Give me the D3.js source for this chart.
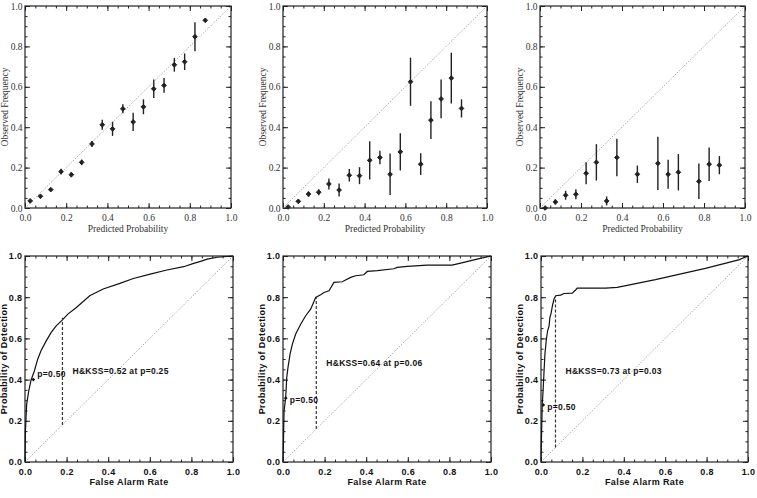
<!DOCTYPE html>
<html>
<head>
<meta charset="utf-8">
<script src="https://cdn.jsdelivr.net/npm/d3@7"></script>
<style>
  body { margin: 0; background: #fff; }
  svg { display: block; }
</style>
</head>
<body>
<div class="container"></div>
<script>
// reliability diagrams: bin centres and observed frequency +/- error
var binCenters = [0.025, 0.075, 0.125, 0.175, 0.225, 0.275, 0.325, 0.375, 0.425,
                  0.475, 0.525, 0.575, 0.625, 0.675, 0.725, 0.775, 0.825, 0.875];

var relLeftObs = [0.035, 0.058, 0.091, 0.18, 0.165, 0.226, 0.317, 0.412, 0.392,
                  0.491, 0.426, 0.501, 0.59, 0.607, 0.709, 0.724, 0.848, 0.929];
var relLeftErr = [0.0, 0.0, 0.0, 0.014, 0.013, 0.014, 0.015, 0.025, 0.035,
                  0.022, 0.045, 0.037, 0.046, 0.037, 0.034, 0.041, 0.072, 0.008];

var relMidObs = [0.005, 0.033, 0.069, 0.078, 0.119, 0.089, 0.162, 0.16, 0.236,
                 0.25, 0.167, 0.278, 0.625, 0.217, 0.435, 0.54, 0.643, 0.493];
var relMidErr = [0.0, 0.0, 0.013, 0.015, 0.027, 0.032, 0.031, 0.042, 0.095,
                 0.033, 0.103, 0.092, 0.119, 0.054, 0.093, 0.096, 0.126, 0.045];

// null = empty bin
var relRightObs = [0.0, 0.03, 0.063, 0.068, 0.172, 0.226, 0.035, 0.25, null,
                   0.167, null, 0.221, 0.167, 0.177, null, 0.132, 0.217, 0.212];
var relRightErr = [0.0, 0.013, 0.022, 0.025, 0.055, 0.09, 0.022, 0.093, null,
                   0.043, null, 0.132, 0.072, 0.09, null, 0.088, 0.083, 0.045];

// ROC curves: false alarm rate vs probability of detection
var rocLeftFar = [0, 0.002, 0.008, 0.018, 0.029, 0.045, 0.061, 0.077, 0.102, 0.126, 0.15, 0.179,
                  0.206, 0.247, 0.311, 0.376, 0.456, 0.521, 0.602, 0.682, 0.763, 0.811, 0.844, 0.876, 0.924, 1];
var rocLeftPod = [0, 0.151, 0.28, 0.345, 0.397, 0.442, 0.499, 0.54, 0.588, 0.629, 0.661, 0.689,
                  0.718, 0.75, 0.807, 0.84, 0.867, 0.891, 0.912, 0.932, 0.948, 0.964, 0.974, 0.985, 0.994, 1];

var rocMidFar = [0, 0.002, 0.005, 0.013, 0.018, 0.024, 0.034, 0.045, 0.061, 0.085, 0.109, 0.133, 0.157,
                 0.181, 0.197, 0.221, 0.245, 0.285, 0.325, 0.349, 0.389, 0.405, 0.453, 0.533, 0.549,
                 0.597, 0.693, 0.813, 0.869, 0.933, 1];
var rocMidPod = [0, 0.086, 0.248, 0.313, 0.41, 0.459, 0.524, 0.572, 0.621, 0.669, 0.71, 0.742, 0.799,
                 0.812, 0.823, 0.831, 0.872, 0.875, 0.896, 0.904, 0.909, 0.925, 0.929, 0.938, 0.945,
                 0.95, 0.956, 0.956, 0.969, 0.985, 1];

var rocRightFar = [0, 0.003, 0.006, 0.01, 0.014, 0.019, 0.026, 0.032, 0.039, 0.043, 0.048, 0.055, 0.063,
                   0.071, 0.095, 0.111, 0.151, 0.167, 0.175, 0.312, 0.368, 0.553, 0.794, 0.955, 1];
var rocRightPod = [0, 0.151, 0.28, 0.345, 0.426, 0.524, 0.596, 0.637, 0.661, 0.702, 0.718, 0.758, 0.791,
                   0.807, 0.81, 0.818, 0.82, 0.835, 0.844, 0.844, 0.848, 0.885, 0.94, 0.981, 1];

// best H&KSS point, p=0.50 point, labels
var hkssFar = [0.18, 0.16, 0.07];
var hkssPod = [0.70, 0.80, 0.80];
var hkssLabels = ["H&KSS=0.52 at p=0.25", "H&KSS=0.64 at p=0.06", "H&KSS=0.73 at p=0.03"];
var halfFar = [0.04, 0.013, 0.011];
var halfPod = [0.40, 0.31, 0.277];
var halfLabel = "p=0.50";

var majorTicks = [0, 0.2, 0.4, 0.6, 0.8, 1.0];
var minorTicks = d3.range(0, 1.0001, 0.05);

var svg = d3.select(".container").append("svg")
    .attr("width", 757)
    .attr("height", 498);

function frame(g, x, y, font, color, pad) {
    var w = x.range()[1] - x.range()[0];
    var h = y.range()[0] - y.range()[1];
    var fmt = d3.format(".1f");

    // minor ticks on all sides
    g.append("g").attr("transform", "translate(0," + h + ")")
        .call(d3.axisBottom(x).tickValues(minorTicks).tickSize(-2.5).tickFormat(""));
    g.append("g")
        .call(d3.axisTop(x).tickValues(minorTicks).tickSize(-2.5).tickFormat(""));
    g.append("g")
        .call(d3.axisLeft(y).tickValues(minorTicks).tickSize(-2.5).tickFormat(""));
    g.append("g").attr("transform", "translate(" + w + ",0)")
        .call(d3.axisRight(y).tickValues(minorTicks).tickSize(-2.5).tickFormat(""));

    // major ticks + labels
    g.append("g").attr("transform", "translate(0," + h + ")")
        .call(d3.axisBottom(x).tickValues(majorTicks).tickSize(-5).tickPadding(pad).tickFormat(fmt));
    g.append("g")
        .call(d3.axisTop(x).tickValues(majorTicks).tickSize(-5).tickFormat(""));
    g.append("g")
        .call(d3.axisLeft(y).tickValues(majorTicks).tickSize(-5).tickPadding(2.5).tickFormat(fmt));
    g.append("g").attr("transform", "translate(" + w + ",0)")
        .call(d3.axisRight(y).tickValues(majorTicks).tickSize(-5).tickFormat(""));

    g.selectAll(".domain").remove();
    g.selectAll(".tick line").attr("stroke", "#222").attr("stroke-width", 1);
    g.selectAll(".tick text").attr("fill", color).style("font-family", font.family)
        .style("font-size", font.size + "px").style("font-weight", font.weight)
        .style("letter-spacing", font.spacing + "px");

    g.append("rect")
        .attr("width", w).attr("height", h)
        .attr("fill", "none").attr("stroke", "#222").attr("stroke-width", 1.2);

    // one-to-one line
    g.append("line")
        .attr("x1", x(0)).attr("y1", y(0))
        .attr("x2", x(1)).attr("y2", y(1))
        .attr("stroke", "#777").attr("stroke-width", 0.8)
        .attr("stroke-dasharray", "1,1.6");
}

function addTitles(g, x, y, xt, yt, font, color, off) {
    var w = x.range()[1], h = y.range()[0];
    g.append("text")
        .attr("x", w / 2).attr("y", h + off[0])
        .attr("text-anchor", "middle")
        .attr("fill", color)
        .style("font-family", font.family).style("font-size", font.size + "px")
        .style("font-weight", font.weight)
        .style("letter-spacing", font.spacing + "px")
        .text(xt);
    g.append("text")
        .attr("transform", "translate(" + (-off[1]) + "," + (h / 2) + ") rotate(-90)")
        .attr("text-anchor", "middle")
        .attr("dy", "0.35em")
        .attr("fill", color)
        .style("font-family", font.family).style("font-size", font.size + "px")
        .style("font-weight", font.weight)
        .style("letter-spacing", font.spacing + "px")
        .text(yt);
}

// ---------- reliability diagrams ----------
var relBoxes = [[25, 6, 231, 208], [283, 6, 487, 208], [540, 6, 745, 208]];
var relObs = [relLeftObs, relMidObs, relRightObs];
var relErr = [relLeftErr, relMidErr, relRightErr];
var serif = { family: "'Liberation Serif', 'Times New Roman', serif", size: 9.5, weight: "normal", spacing: 0 };

relBoxes.forEach(function(b, k) {
    var g = svg.append("g").attr("transform", "translate(" + b[0] + "," + b[1] + ")");
    var x = d3.scaleLinear().domain([0, 1]).range([0, b[2] - b[0]]);
    var y = d3.scaleLinear().domain([0, 1]).range([b[3] - b[1], 0]);
    frame(g, x, y, serif, "#333", 6);
    addTitles(g, x, y, "Predicted Probability", "Observed Frequency", serif, "#333", [23.5, 20]);

    var pts = binCenters.map(function(c, i) {
        return { p: c, o: relObs[k][i], e: relErr[k][i] };
    }).filter(function(d) { return d.o !== null; });

    g.selectAll(".err").data(pts).enter().append("line")
        .attr("x1", function(d) { return x(d.p); })
        .attr("x2", function(d) { return x(d.p); })
        .attr("y1", function(d) { return y(Math.max(0, d.o - d.e)); })
        .attr("y2", function(d) { return y(d.o + d.e); })
        .attr("stroke", "#222").attr("stroke-width", 1.4);

    g.selectAll(".pt").data(pts).enter().append("path")
        .attr("d", d3.symbol().type(d3.symbolDiamond2).size(14))
        .attr("transform", function(d) { return "translate(" + x(d.p) + "," + y(d.o) + ")"; })
        .attr("fill", "#222").attr("stroke", "#222").attr("stroke-width", 1);
});

// ---------- ROC curves ----------
var rocBoxes = [[25, 256, 233, 462], [283, 256, 491, 462], [541, 256, 748, 462]];
var rocFar = [rocLeftFar, rocMidFar, rocRightFar];
var rocPod = [rocLeftPod, rocMidPod, rocRightPod];
var sans = { family: "'Liberation Sans', Arial, sans-serif", size: 9, weight: "bold", spacing: 0.4 };
var annoY = [0.44, 0.48, 0.44];   // vertical spot of the H&KSS text
var halfShift = [-6, 2, 2];       // p=0.50 text offset from its marker, px

rocBoxes.forEach(function(b, k) {
    var g = svg.append("g").attr("transform", "translate(" + b[0] + "," + b[1] + ")");
    var x = d3.scaleLinear().domain([0, 1]).range([0, b[2] - b[0]]);
    var y = d3.scaleLinear().domain([0, 1]).range([b[3] - b[1], 0]);
    frame(g, x, y, sans, "#111", 7);
    addTitles(g, x, y, "False Alarm Rate", "Probability of Detection", sans, "#111", [23, 21]);

    var pts = rocFar[k].map(function(f, i) { return [f, rocPod[k][i]]; });
    var line = d3.line()
        .x(function(d) { return x(d[0]); })
        .y(function(d) { return y(d[1]); });
    g.append("path").datum(pts)
        .attr("d", line)
        .attr("fill", "none").attr("stroke", "#111").attr("stroke-width", 1.2);

    // H&KSS dashed segment
    g.append("line")
        .attr("x1", x(hkssFar[k])).attr("x2", x(hkssFar[k]))
        .attr("y1", y(hkssFar[k])).attr("y2", y(hkssPod[k]))
        .attr("stroke", "#333").attr("stroke-width", 1.2)
        .attr("stroke-dasharray", "3,2");

    g.append("text")
        .attr("x", x(hkssFar[k]) + 10).attr("y", y(annoY[k]))
        .attr("dy", "0.35em")
        .attr("fill", "#111")
        .style("font-family", sans.family).style("font-size", "8.5px").style("font-weight", "bold")
        .style("letter-spacing", "0.3px")
        .text(hkssLabels[k]);

    // p=0.50 marker
    g.append("path")
        .attr("d", d3.symbol().type(d3.symbolDiamond2).size(9))
        .attr("transform", "translate(" + x(halfFar[k]) + "," + y(halfPod[k]) + ")")
        .attr("fill", "#111");
    g.append("text")
        .attr("x", x(halfFar[k]) + 4).attr("y", y(halfPod[k]) + halfShift[k])
        .attr("dy", "0.35em")
        .attr("fill", "#111")
        .style("font-family", sans.family).style("font-size", "8.5px").style("font-weight", "bold")
        .style("letter-spacing", "0.3px")
        .text(halfLabel);
});
</script>
</body>
</html>
